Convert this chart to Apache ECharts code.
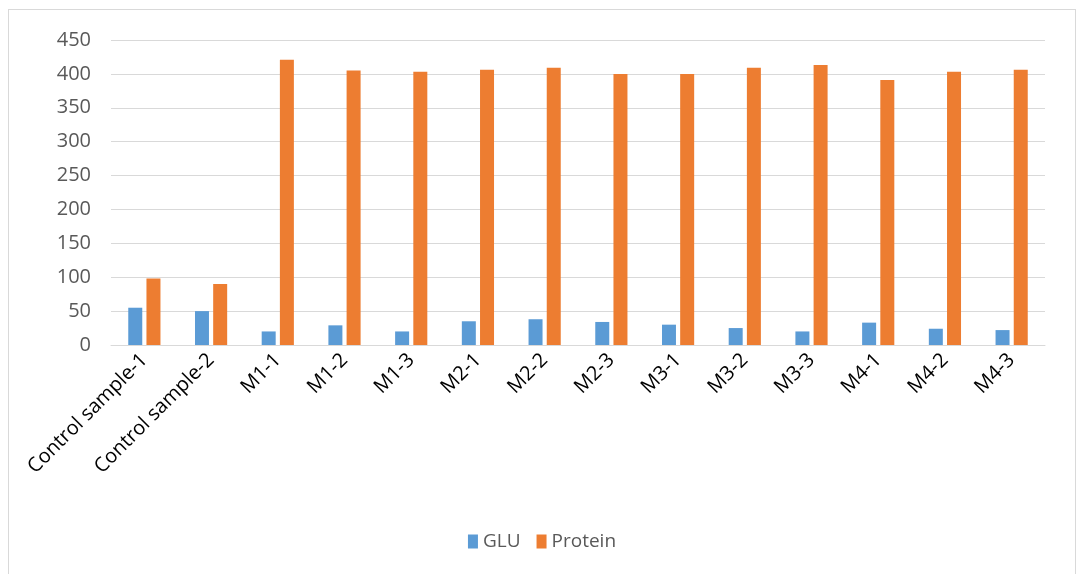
<!DOCTYPE html>
<html>
<head>
<meta charset="utf-8">
<script src="https://cdn.jsdelivr.net/npm/echarts@6/dist/echarts.min.js"></script>
<style>
  html, body { margin: 0; padding: 0; background: #fff; overflow: hidden; }
  #main { position: absolute; left: 8px; top: 9px; width: 1068px; height: 570px;
          border: 1px solid #d9d9d9; box-sizing: border-box; }
</style>
</head>
<body>
<div id="main"></div>
<script>
var categories = ['Control sample-1', 'Control sample-2', 'M1-1', 'M1-2', 'M1-3', 'M2-1', 'M2-2',
                  'M2-3', 'M3-1', 'M3-2', 'M3-3', 'M4-1', 'M4-2', 'M4-3'];
var glu = [55, 50, 20, 29, 20, 35, 38, 34, 30, 25, 20, 33, 24, 22];
var protein = [98, 90, 421, 405, 403, 406, 409, 400, 400, 409, 413, 391, 403, 406];
var yTicks = { min: 0, max: 450, interval: 50 };

var myChart = echarts.init(document.getElementById('main'));
var font = '"Open Sans", "Liberation Sans", sans-serif';
myChart.setOption({
    animation: false,
    textStyle: { fontFamily: font },
    grid: { left: 102, right: 30, top: 30, bottom: 233 },
    legend: {
        bottom: 22,
        left: 'center',
        itemWidth: 10,
        itemHeight: 14,
        itemGap: 16,
        icon: 'rect',
        textStyle: { fontSize: 19, color: '#595959', fontFamily: font },
        data: ['GLU', 'Protein']
    },
    xAxis: {
        type: 'category',
        data: categories,
        axisLine: { lineStyle: { color: '#d9d9d9', width: 1 } },
        axisTick: { show: false },
        axisLabel: { rotate: 45, fontSize: 20, color: '#000', interval: 0, margin: 12, fontFamily: font }
    },
    yAxis: {
        type: 'value',
        min: yTicks.min,
        max: yTicks.max,
        interval: yTicks.interval,
        axisLine: { show: false },
        axisTick: { show: false },
        splitLine: { lineStyle: { color: '#d9d9d9', width: 1 } },
        axisLabel: { fontSize: 20, color: '#595959', margin: 20, fontFamily: font }
    },
    series: [{
        name: 'GLU',
        type: 'bar',
        data: glu,
        barWidth: 14,
        barGap: '30%',
        itemStyle: { color: '#5b9bd5' }
    }, {
        name: 'Protein',
        type: 'bar',
        data: protein,
        barWidth: 14,
        itemStyle: { color: '#ed7d31' }
    }]
});
</script>
</body>
</html>
